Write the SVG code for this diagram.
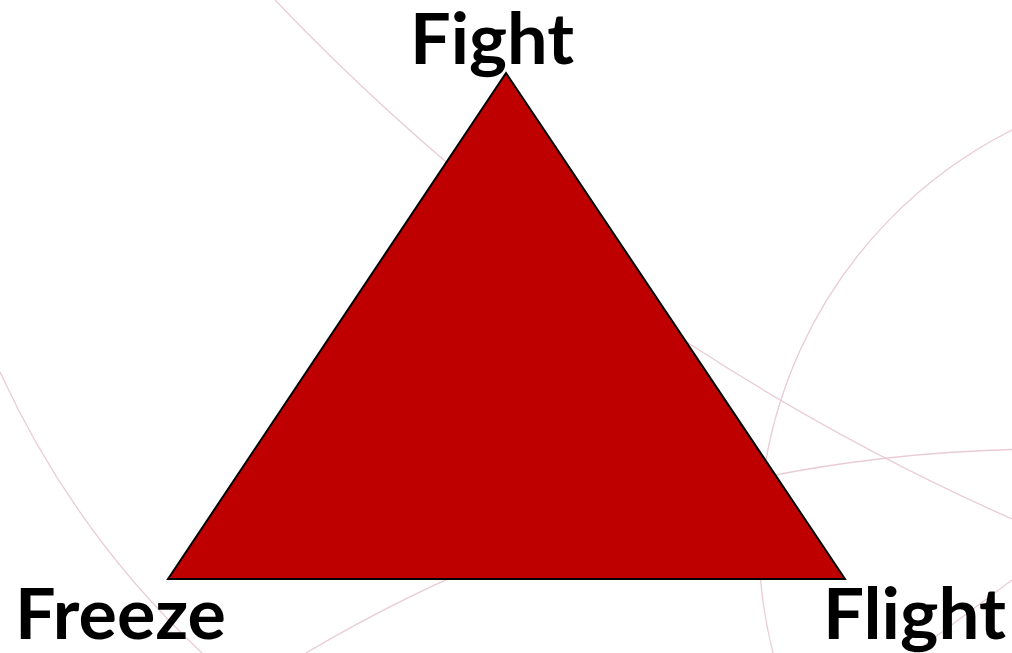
<svg xmlns="http://www.w3.org/2000/svg" width="1012" height="653" viewBox="0 0 1012 653">
  <style>
    .bg-curve { fill: none; stroke: #e9cbd3; stroke-width: 1.3; }
    .label { font-family: Lato, "Open Sans", "Liberation Sans", sans-serif; font-weight: bold; font-size: 70px; fill: #000000; }
    .tri { fill: #be0000; stroke: #000000; stroke-width: 2; stroke-linejoin: miter; }
  </style>
  <rect x="0" y="0" width="1012" height="653" fill="#ffffff"/>
  <g id="connectors">
    <path class="bg-curve" d="M275,0 A2325,2325 0 0 0 1012,519"/>
    <path class="bg-curve" d="M1012,130 A459,459 0 0 0 773,653"/>
    <path class="bg-curve" d="M1012,449.5 A1455,1455 0 0 0 306,653"/>
    <path class="bg-curve" d="M0,372 A898,898 0 0 0 202,653"/>
    <path class="bg-curve" d="M1012,580 L914,653"/>
  </g>
  <g id="triangle">
    <polygon class="tri" points="506,73 845,579 168,579"/>
  </g>
  <g id="node-fight">
    <text class="label" x="410" y="64" textLength="164" lengthAdjust="spacingAndGlyphs">Fight</text>
  </g>
  <g id="node-freeze">
    <text class="label" x="15" y="639" textLength="211" lengthAdjust="spacingAndGlyphs">Freeze</text>
  </g>
  <g id="node-flight">
    <text class="label" x="823" y="639" textLength="183" lengthAdjust="spacingAndGlyphs">Flight</text>
  </g>
</svg>
